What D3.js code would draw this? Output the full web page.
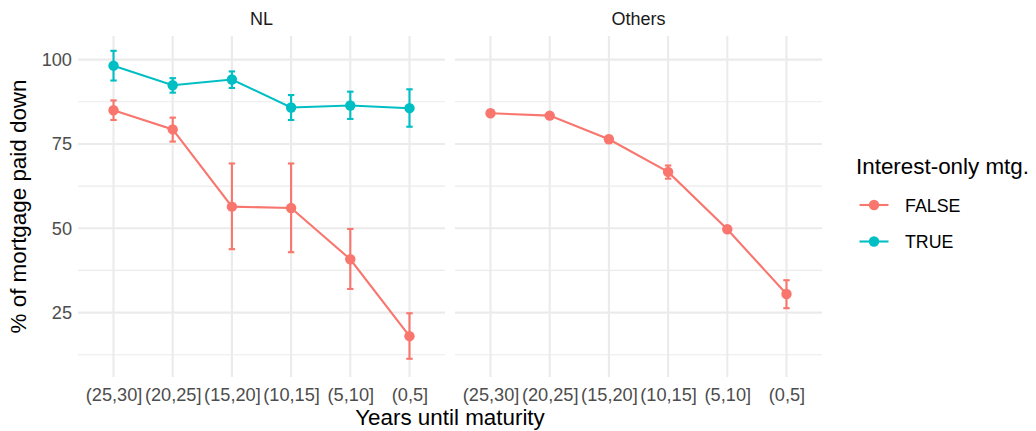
<!DOCTYPE html>
<html>
<head>
<meta charset="utf-8">
<script src="https://cdn.jsdelivr.net/npm/d3@7"></script>
<style>
  body { margin: 0; background: #fff; }
  svg { font-family: "Liberation Sans", Arial, sans-serif; }
</style>
</head>
<body>
<svg class="chart" width="1036" height="431"></svg>
<script>
const categories = ['(25,30]', '(20,25]', '(15,20]', '(10,15]', '(5,10]', '(0,5]']
const panels = ['NL', 'Others']
const groups = ['FALSE', 'TRUE']
const colors = ['#F8766D', '#00BFC4']
const yTicks = [25, 50, 75, 100]
const yMinor = [12.5, 37.5, 62.5, 87.5]

// mean, low, high per category
const nlFalse = [85.0, 79.3, 56.4, 56.0, 40.8, 18.0]
const nlFalseLo = [82.1, 75.7, 43.8, 42.9, 32.0, 11.3]
const nlFalseHi = [87.9, 82.8, 69.2, 69.2, 49.8, 24.8]

const nlTrue = [98.2, 92.4, 94.1, 85.8, 86.4, 85.6]
const nlTrueLo = [93.8, 90.2, 91.6, 82.1, 82.4, 80.1]
const nlTrueHi = [102.6, 94.5, 96.5, 89.5, 90.5, 91.2]

const othFalse = [84.1, 83.4, 76.4, 66.7, 49.7, 30.5]
const othFalseLo = [83.3, 82.9, 75.4, 64.7, 48.9, 26.3]
const othFalseHi = [84.9, 83.9, 77.4, 68.6, 50.5, 34.6]

const buildSeries = (panel, group, mean, lo, hi) =>
  categories.map((c, i) => ({ panel, group, cat: c, y: mean[i], lo: lo[i], hi: hi[i] }))

const series = [
  { panel: 'NL', group: 'FALSE', pts: buildSeries('NL', 'FALSE', nlFalse, nlFalseLo, nlFalseHi) },
  { panel: 'NL', group: 'TRUE', pts: buildSeries('NL', 'TRUE', nlTrue, nlTrueLo, nlTrueHi) },
  { panel: 'Others', group: 'FALSE', pts: buildSeries('Others', 'FALSE', othFalse, othFalseLo, othFalseHi) }
]

const svg = d3.select('svg.chart')
const color = d3.scaleOrdinal().domain(groups).range(colors)

const plotTop = 36, plotBottom = 377
const panelX = { NL: [78, 445], Others: [455, 822] }
const font = '"Liberation Sans", Arial, sans-serif'

const y = d3.scaleLinear().domain([5.9, 107.0]).range([plotBottom, plotTop])

panels.forEach(p => {
  const [x0, x1] = panelX[p]
  const x = d3.scalePoint().domain(categories).range([x0, x1]).padding(0.6)
  const g = svg.append('g').attr('class', 'panel')

  // grid
  g.selectAll('line.minor').data(yMinor).join('line')
    .attr('x1', x0).attr('x2', x1)
    .attr('y1', d => y(d)).attr('y2', d => y(d))
    .attr('stroke', '#EBEBEB').attr('stroke-width', 1.1)
  g.selectAll('line.major').data(yTicks).join('line')
    .attr('x1', x0).attr('x2', x1)
    .attr('y1', d => y(d)).attr('y2', d => y(d))
    .attr('stroke', '#EBEBEB').attr('stroke-width', 2.1)
  g.selectAll('line.vmajor').data(categories).join('line')
    .attr('x1', d => x(d)).attr('x2', d => x(d))
    .attr('y1', plotTop).attr('y2', plotBottom)
    .attr('stroke', '#EBEBEB').attr('stroke-width', 2.1)

  // strip
  svg.append('text')
    .attr('x', (x0 + x1) / 2).attr('y', 25)
    .attr('text-anchor', 'middle')
    .attr('font-size', 18).attr('fill', '#1A1A1A')
    .text(p)

  // x axis
  const xa = svg.append('g')
    .attr('transform', `translate(0, ${plotBottom})`)
    .call(d3.axisBottom(x).tickSize(0).tickPadding(11))
  xa.select('.domain').remove()
  xa.selectAll('text').attr('font-size', 18.2).attr('fill', '#4D4D4D')
    .attr('font-family', font)

  const line = d3.line().x(d => x(d.cat)).y(d => y(d.y))
  series.filter(s => s.panel === p).forEach(s => {
    const c = color(s.group)
    const sg = g.append('g')
    sg.append('path').datum(s.pts)
      .attr('d', line).attr('fill', 'none')
      .attr('stroke', c).attr('stroke-width', 2.1)
    const eb = sg.selectAll('g.eb').data(s.pts).join('g')
    eb.append('line')
      .attr('x1', d => x(d.cat)).attr('x2', d => x(d.cat))
      .attr('y1', d => y(d.lo)).attr('y2', d => y(d.hi))
      .attr('stroke', c).attr('stroke-width', 2.1)
    eb.append('line')
      .attr('x1', d => x(d.cat) - 3.2).attr('x2', d => x(d.cat) + 3.2)
      .attr('y1', d => y(d.lo)).attr('y2', d => y(d.lo))
      .attr('stroke', c).attr('stroke-width', 2.1)
    eb.append('line')
      .attr('x1', d => x(d.cat) - 3.2).attr('x2', d => x(d.cat) + 3.2)
      .attr('y1', d => y(d.hi)).attr('y2', d => y(d.hi))
      .attr('stroke', c).attr('stroke-width', 2.1)
    sg.selectAll('circle').data(s.pts).join('circle')
      .attr('cx', d => x(d.cat)).attr('cy', d => y(d.y))
      .attr('r', 5.2).attr('fill', c)
  })
})

// y axis
const ya = svg.append('g')
  .attr('transform', `translate(${panelX.NL[0]}, 0)`)
  .call(d3.axisLeft(y).tickValues(yTicks).tickSize(0).tickPadding(6))
ya.select('.domain').remove()
ya.selectAll('text').attr('font-size', 18.2).attr('fill', '#4D4D4D')
  .attr('font-family', font)

// axis titles
svg.append('text')
  .attr('x', (panelX.NL[0] + panelX.Others[1]) / 2).attr('y', 425)
  .attr('text-anchor', 'middle').attr('font-size', 22.4).attr('fill', '#000')
  .text('Years until maturity')
svg.append('text')
  .attr('transform', `translate(25.5, ${(plotTop + plotBottom) / 2}) rotate(-90)`)
  .attr('text-anchor', 'middle').attr('font-size', 22.4).attr('fill', '#000')
  .text('% of mortgage paid down')

// legend
const lg = svg.append('g').attr('transform', 'translate(856, 0)')
lg.append('text').attr('x', 0).attr('y', 174)
  .attr('font-size', 22.4).attr('fill', '#000').text('Interest-only mtg.')
groups.forEach((gname, i) => {
  const cy = 205 + i * 36.5
  lg.append('line').attr('x1', 3.5).attr('x2', 32.5).attr('y1', cy).attr('y2', cy)
    .attr('stroke', color(gname)).attr('stroke-width', 2.1)
  lg.append('circle').attr('cx', 18).attr('cy', cy).attr('r', 5.2).attr('fill', color(gname))
  lg.append('text').attr('x', 49).attr('y', cy + 6.5)
    .attr('font-size', 17.8).attr('fill', '#000').text(gname)
})
</script>
</body>
</html>
